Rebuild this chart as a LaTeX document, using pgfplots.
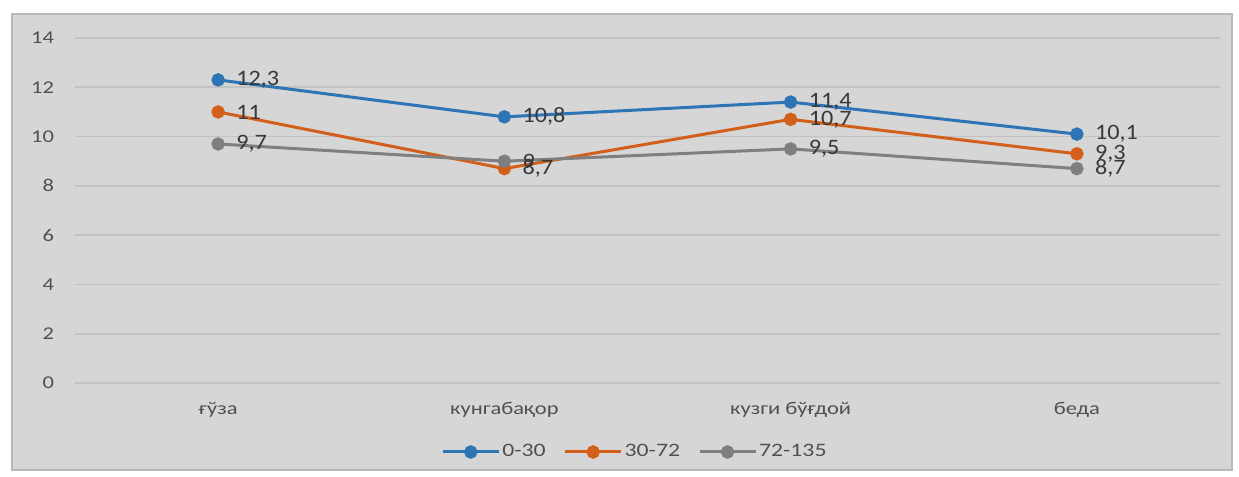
\documentclass[border=0pt]{standalone}
\usepackage{pgfplots}
\pgfplotsset{compat=1.18}
\usepackage{fontspec}
\setmainfont[FakeStretch=1.25]{Carlito}
\newfontfamily\lblfont[FakeStretch=1.1]{Carlito}
\definecolor{bg}{HTML}{D6D6D6}
\definecolor{brd}{HTML}{B8B8B8}
\definecolor{gridc}{HTML}{C2C2C2}
\definecolor{tickc}{HTML}{505050}
\definecolor{lblc}{HTML}{383838}
\definecolor{cblue}{HTML}{2E75B6}
\definecolor{corange}{HTML}{D2601A}
\definecolor{cgray}{HTML}{7F7F7F}
\begin{document}
\begin{tikzpicture}[x=1pt,y=1pt]
\fill[white] (0,0) rectangle (619.5,238.5);
\filldraw[fill=bg, draw=brd, line width=1pt] (6,3.5) rectangle (616,231.5);
\begin{axis}[
  at={(37.5pt,47pt)}, anchor=south west,
  scale only axis, width=572.5pt, height=172.5pt,
  xmin=-0.5, xmax=3.5, ymin=0, ymax=14,
  ytick={0,2,...,14}, xtick={0,1,2,3},
  xticklabels={ғўза, кунгабақор, кузги бўғдой, беда},
  axis line style={draw=none}, major tick length=0,
  ymajorgrids, grid style={gridc, line width=0.8pt},
  tick label style={font=\fontsize{9}{10}\selectfont, text=tickc},
  yticklabel style={xshift=-7pt},
  xticklabel style={yshift=-6pt},
  /pgf/number format/assume math mode=true,
  /pgf/number format/use comma,
  nodes near coords,
  nodes near coords style={anchor=west, font=\lblfont\fontsize{11}{12}\selectfont, text=lblc, xshift=5pt},
  legend columns=3,
  legend image code/.code={\draw[mark repeat=2, mark phase=2] plot coordinates {(0pt,0pt) (14pt,0pt) (28pt,0pt)};},
  legend style={at={(0.489,-0.2)}, anchor=center, draw=none, fill=none,
    font=\fontsize{9.5}{10}\selectfont, text=tickc,
    /tikz/every odd column/.append style={column sep=0pt},
    /tikz/every even column/.append style={column sep=8pt},
    nodes={inner sep=1pt}},
  clip=false,
]
\addplot[cblue, line width=1.5pt, mark=*, mark size=2.6pt, mark options={solid}] coordinates {(0,12.3) (1,10.8) (2,11.4) (3,10.1)};
\addlegendentry{0-30}
\addplot[corange, line width=1.5pt, mark=*, mark size=2.6pt, mark options={solid}] coordinates {(0,11) (1,8.7) (2,10.7) (3,9.3)};
\addlegendentry{30-72}
\addplot[cgray, line width=1.5pt, mark=*, mark size=2.6pt, mark options={solid}] coordinates {(0,9.7) (1,9) (2,9.5) (3,8.7)};
\addlegendentry{72-135}
\end{axis}
\end{tikzpicture}
\end{document}
